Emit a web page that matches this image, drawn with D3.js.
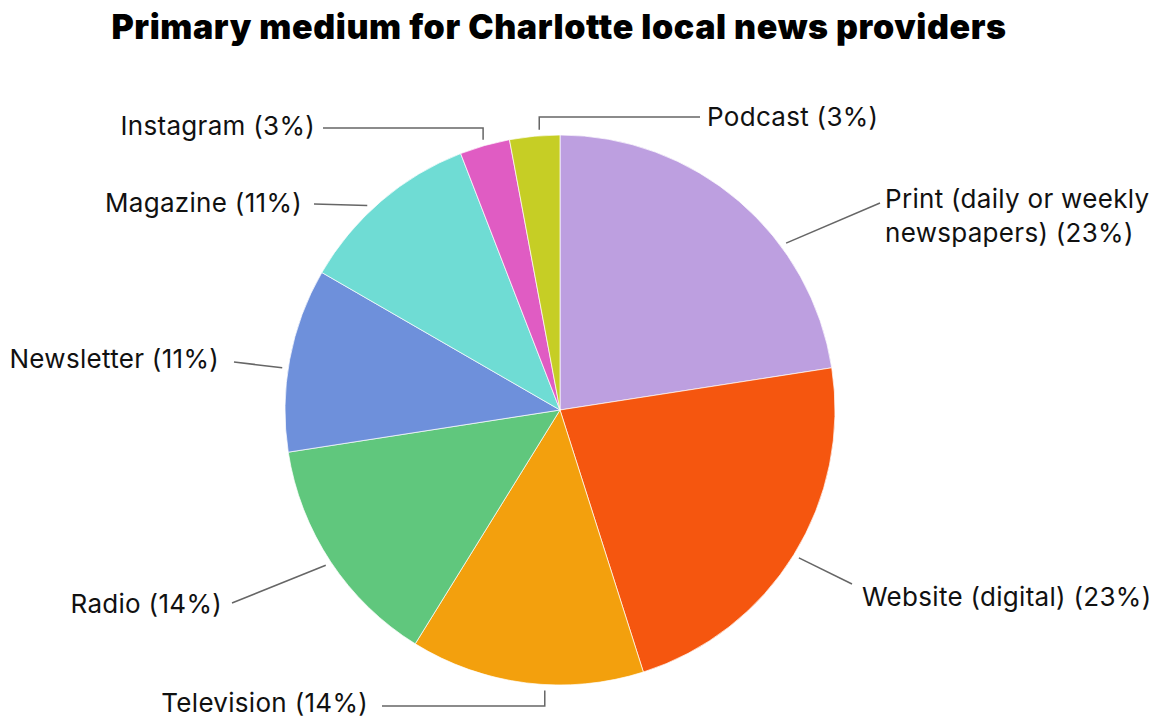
<!DOCTYPE html>
<html>
<head>
<meta charset="utf-8">
<script src="https://cdn.jsdelivr.net/npm/d3@7"></script>
<style>
  body { margin: 0; background: #fff; }
  text { font-family: Inter, "Noto Sans", sans-serif; }
</style>
</head>
<body>
<div id="chart"></div>
<script>
// data
var mediums = ["Print (daily or weekly newspapers)", "Website (digital)", "Television", "Radio",
               "Newsletter", "Magazine", "Instagram", "Podcast"]
var shares = [23, 23, 14, 14, 11, 11, 3, 3]
var colors = ["#bd9fe0", "#f5560f", "#f3a00d", "#60c77d", "#6e90db", "#6fdcd4", "#e05cc3", "#c6ce25"]

var width = 1162, height = 721
var cx = 560, cy = 410, radius = 275

// label placement: where along the slice the leader starts, label anchor point, optional elbow
var labelLayout = {
  "Print (daily or weekly newspapers)": {f: 0.66, x: 885, y: 201, end: [880, 203], anchor: "start", lines: ["Print (daily or weekly", "newspapers) (23%)"]},
  "Website (digital)": {f: 0.5, x: 862, y: 599, end: [852, 584], anchor: "start"},
  "Television": {f: 0.42, x: 368, y: 705, elbow: "v", end: [382, 706], anchor: "end"},
  "Radio": {f: 0.5, x: 222, y: 606, end: [232, 603], anchor: "end"},
  "Newsletter": {f: 0.45, x: 219, y: 361, end: [234, 362], anchor: "end"},
  "Magazine": {f: 0.43, x: 302, y: 205, end: [314, 204], anchor: "end"},
  "Instagram": {f: 0.5, x: 315, y: 128, elbow: "v", end: [323, 128], anchor: "end"},
  "Podcast": {f: 0.6, x: 707, y: 119, elbow: "v", end: [700, 117], anchor: "start"}
}

var svg = d3.select("#chart")
    .append("svg")
    .attr("width", width)
    .attr("height", height)

svg.append("text")
    .attr("x", 559)
    .attr("y", 39)
    .attr("text-anchor", "middle")
    .style("font-size", "34px")
    .style("font-weight", 900)
    .style("letter-spacing", "0.6px")
    .text("Primary medium for Charlotte local news providers")

var color = d3.scaleOrdinal().domain(mediums).range(colors)

var data = mediums.map(function(m, i){ return {name: m, value: shares[i]} })
var pie = d3.pie().sort(null).value(function(d){ return d.value })
var arcs = pie(data)
var arc = d3.arc().innerRadius(0).outerRadius(radius)

var g = svg.append("g").attr("transform", "translate(" + cx + "," + cy + ")")

g.selectAll("path.slice")
    .data(arcs)
    .enter()
    .append("path")
        .attr("class", "slice")
        .attr("d", arc)
        .attr("fill", function(d){ return color(d.data.name) })
        .attr("stroke", "#fff")
        .attr("stroke-width", 0.7)

// leader lines
arcs.forEach(function(d){
    var L = labelLayout[d.data.name]
    var a = d.startAngle + (d.endAngle - d.startAngle) * L.f
    var r0 = radius + 6
    var sx = cx + r0 * Math.sin(a), sy = cy - r0 * Math.cos(a)
    var pts
    if (L.elbow == "v") {
        // vertical tick out of the pie, then horizontal to the label
        pts = [[sx, sy], [sx, L.end[1]], L.end]
    } else {
        pts = [[sx, sy], L.end]
    }
    svg.append("path")
        .attr("d", d3.line()(pts))
        .attr("fill", "none")
        .attr("stroke", "#666")
        .attr("stroke-width", 1.5)

    var t = svg.append("text")
        .attr("x", L.x)
        .attr("y", L.y)
        .attr("text-anchor", L.anchor)
        .attr("dominant-baseline", "middle")
        .style("font-size", "26px")
        .style("letter-spacing", "0.3px")
        .style("fill", "#111")
    var pct = " (" + d.data.value + "%)"
    if (L.lines) {
        t.selectAll("tspan")
            .data(L.lines)
            .enter()
            .append("tspan")
                .attr("x", L.x)
                .attr("dy", function(s, i){ return i == 0 ? 0 : 34 })
                .text(function(s){ return s })
    } else {
        t.text(d.data.name + pct)
    }
})
</script>
</body>
</html>
